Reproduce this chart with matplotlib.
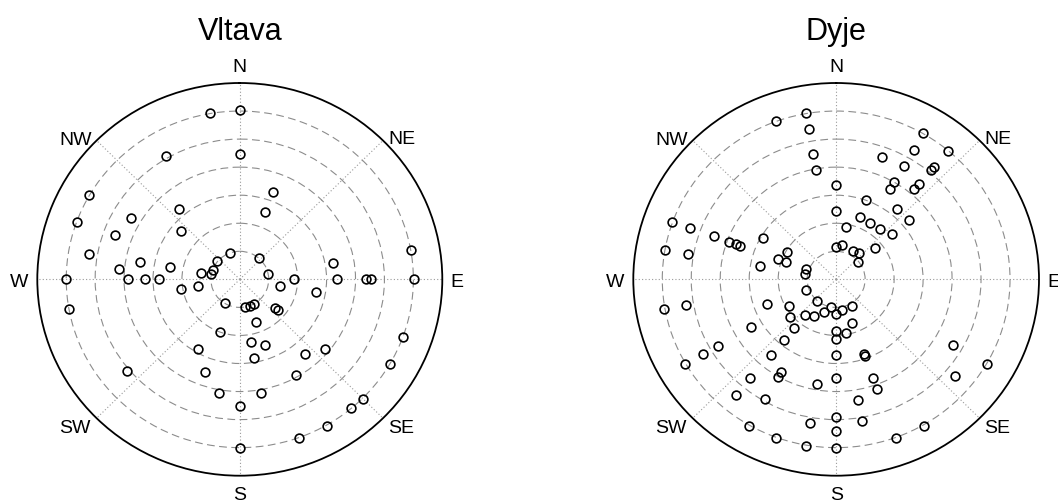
import numpy as np
import matplotlib
matplotlib.use('Agg')
import matplotlib.pyplot as plt

plt.rcParams['font.family'] = ['Liberation Sans', 'DejaVu Sans']

# ---------------- data ----------------
titles = ['Vltava', 'Dyje']
directions = ['N', 'NE', 'E', 'SE', 'S', 'SW', 'W', 'NW']
direction_angles = [0, 45, 90, 135, 180, 225, 270, 315]
ring_values = [1, 2, 3, 4, 5, 6]
r_max = 7

# compass direction (deg, clockwise from N) and radius of each event
vltava_dir = [350, 0, 0, 330, 300, 290, 320, 300, 290, 310,
              280, 340, 310, 290, 280, 280, 280, 275, 280, 270,
              270, 270, 270, 260, 260, 40, 80, 90, 100, 100,
              210, 170, 160, 150, 130, 130, 160, 200, 170, 160,
              210, 170, 140, 20, 20, 80, 90, 90, 90, 90,
              80, 260, 230, 200, 190, 180, 180, 130, 150, 170,
              110, 120, 135, 140, 150, 160]
vltava_r = [6.03, 6.02, 4.48, 5.09, 6.01, 6.00, 3.27, 4.34, 4.58, 2.67,
            5.28, 1.01, 1.01, 1.00, 1.01, 1.37, 3.51, 4.18, 2.44, 6.01,
            3.86, 3.28, 2.80, 2.07, 1.45, 1.01, 1.00, 1.88, 1.41, 2.66,
            0.99, 0.99, 1.00, 1.00, 1.61, 1.71, 1.63, 2.01, 2.25, 2.50,
            2.88, 2.85, 3.49, 3.31, 2.55, 3.27, 3.36, 4.35, 4.52, 6.02,
            6.01, 5.99, 5.10, 3.50, 4.13, 4.51, 6.01, 3.86, 3.92, 4.13,
            6.00, 6.00, 6.01, 6.00, 6.02, 6.01]

dyje_dir = [350, 340, 350, 350, 350, 0, 0, 0, 290, 290,
            280, 280, 290, 290, 290, 290, 300, 280, 290, 290,
            300, 290, 280, 20, 30, 40, 50, 40, 50, 10,
            10, 30, 40, 50, 50, 30, 40, 30, 20, 30,
            40, 40, 30, 30, 40, 40, 20, 250, 250, 220,
            240, 230, 220, 210, 200, 190, 180, 170, 150, 160,
            170, 180, 180, 220, 220, 220, 180, 160, 160, 260,
            260, 240, 240, 240, 240, 210, 210, 220, 190, 180,
            220, 210, 180, 180, 180, 190, 210, 200, 190, 160,
            160, 170, 170, 120, 130, 120, 150, 160]
dyje_r = [6.03, 6.02, 5.43, 4.54, 3.96, 3.36, 2.45, 1.14, 6.01, 5.38,
          6.01, 5.18, 4.48, 3.92, 3.69, 3.52, 2.93, 2.66, 2.15, 1.84,
          1.95, 1.09, 1.09, 2.36, 2.32, 2.34, 2.53, 3.26, 3.29, 1.88,
          1.23, 1.16, 1.22, 0.99, 1.76, 6.02, 5.99, 5.34, 4.64, 4.67,
          5.09, 5.23, 4.00, 3.73, 4.46, 4.19, 3.00, 1.10, 2.54, 1.01,
          1.88, 2.09, 1.65, 1.52, 1.22, 1.01, 1.23, 1.12, 1.11, 1.64,
          1.94, 1.85, 2.13, 2.26, 2.80, 3.52, 2.68, 2.83, 2.90, 6.02,
          5.25, 3.41, 4.72, 5.31, 6.02, 3.81, 4.03, 4.60, 3.79, 3.52,
          5.40, 4.92, 4.92, 5.40, 6.03, 5.19, 6.04, 6.03, 6.04, 3.75,
          4.16, 4.36, 5.12, 4.67, 5.34, 6.00, 6.03, 6.03]

series = [(vltava_dir, vltava_r), (dyje_dir, dyje_r)]

# ---------------- layout ----------------
W, H = 1058, 502
fig = plt.figure(figsize=(W / 100, H / 100), dpi=100)
boxes = [(37.3, 84.0, 405.0, 392.7), (633.3, 84.0, 405.7, 392.7)]  # left, top, w, h (px)

px = 0.72  # points per pixel at dpi 100
label_offsets = {
    'N': ((0, 12), 'center'),
    'NE': ((5, -2), 'left'),
    'E': ((8, -7), 'left'),
    'SE': ((5, -14), 'left'),
    'S': ((0, -23), 'center'),
    'SW': ((-6, -14), 'right'),
    'W': ((-9, -7), 'right'),
    'NW': ((-5, -3), 'right'),
}

for (l, t, w, h), title, (dirs, rs) in zip(boxes, titles, series):
    ax = fig.add_axes([l / W, 1 - (t + h) / H, w / W, h / H], projection='polar')
    ax.set_aspect('auto')
    ax.set_theta_zero_location('N')
    ax.set_theta_direction(-1)
    ax.set_ylim(0, r_max)
    ax.set_xticks(np.deg2rad(direction_angles))
    ax.set_yticks(ring_values)
    ax.set_xticklabels([])
    ax.set_yticklabels([])
    ax.tick_params(length=0)
    ax.xaxis.grid(True, color='#9a9a9a', linestyle=(0, (1, 2)), linewidth=0.8)
    ax.yaxis.grid(True, color='#8c8c8c', linestyle=(0, (7, 4)), linewidth=0.8)
    ax.spines['polar'].set_linewidth(1.3)
    ax.spines['polar'].set_color('black')

    ax.plot(np.deg2rad(dirs), rs, 'o', mfc='none', mec='black', ms=6.3,
            mew=1.2, clip_on=False, zorder=5)

    for lab, ang in zip(directions, direction_angles):
        (ox, oy), ha = label_offsets[lab]
        ax.annotate(lab, xy=(np.deg2rad(ang), r_max), xytext=(ox * px, oy * px),
                    textcoords='offset points', ha=ha, va='baseline',
                    fontsize=14, annotation_clip=False)

    fig.text((l + w / 2) / W, 1 - 40 / H, title, ha='center', va='baseline',
             fontsize=22)

fig.savefig('out.png', dpi=100)
